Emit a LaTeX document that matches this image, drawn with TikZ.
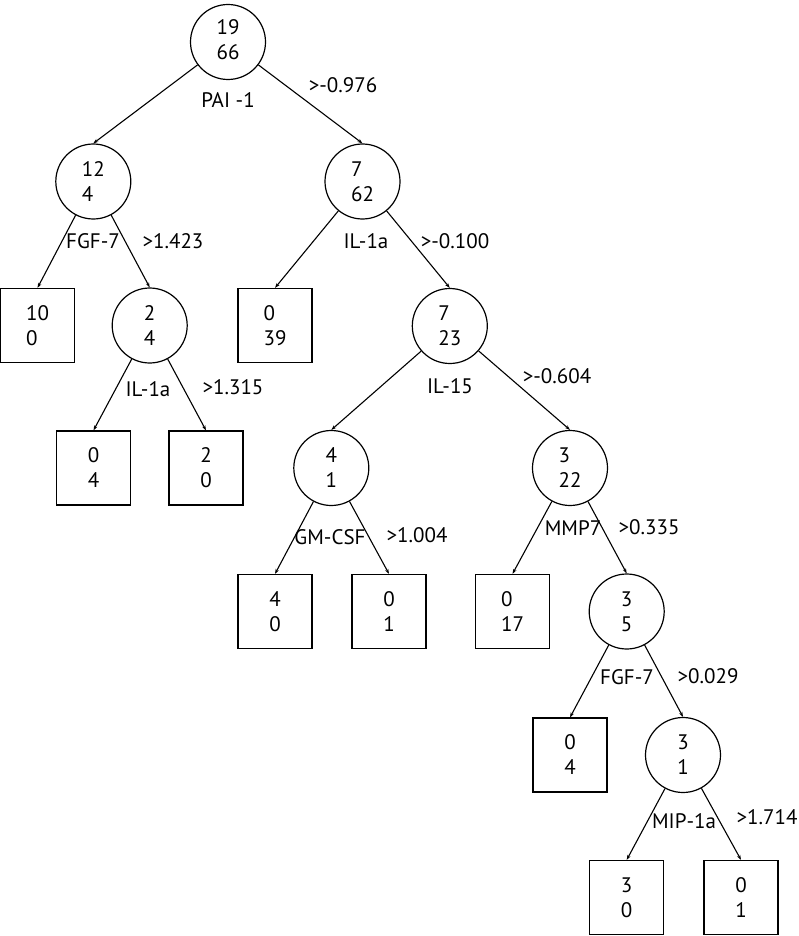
\documentclass[tikz,border=0pt]{standalone}
\usepackage{fontspec}
\setmainfont{PT Sans}
\usetikzlibrary{arrows.meta}
\begin{document}
\begin{tikzpicture}[x=1pt,y=-1pt,
  every node/.style={font=\fontsize{21}{25}\selectfont, inner sep=0pt},
  split/.style={circle, draw, line width=1.2pt, minimum size=75pt, align=left},
  leaf/.style={rectangle, draw, line width=1.2pt, minimum size=74pt, align=left},
  lbl/.style={anchor=center},
  edge/.style={line width=1.1pt, -{Stealth[length=5pt,width=3.5pt]}}]
\useasboundingbox (0,0) rectangle (798,936);
% internal nodes
\node[split] (r)  at (228,42)      {\raisebox{7pt}{\begin{tabular}{@{}l@{}}19\\66\end{tabular}}};
\node[split] (n1) at (93.3,181.5)  {12\\4};
\node[split] (n2) at (362.5,181.5) {7\\62};
\node[split] (n3) at (149.7,325.5) {2\\4};
\node[split] (n4) at (449.8,326)   {7\\23};
\node[split] (n5) at (331.3,468)   {4\\1};
\node[split] (n6) at (570,468)     {3\\22};
\node[split] (n7) at (626.7,611.5) {3\\5};
\node[split] (n8) at (683,755)     {3\\1};
% leaves
\node[leaf] (b1)  at (37.5,325.5)  {10\\0};
\node[leaf] (b2)  at (275,325.5)   {0\\39};
\node[leaf] (b3)  at (93.5,468)    {0\\4};
\node[leaf] (b4)  at (206,468)     {2\\0};
\node[leaf] (b5)  at (275,611.5)   {4\\0};
\node[leaf] (b6)  at (389,611.5)   {0\\1};
\node[leaf] (b7)  at (512.5,611.5) {0\\17};
\node[leaf] (b8)  at (570,755)     {0\\4};
\node[leaf] (b9)  at (626.7,897.5) {3\\0};
\node[leaf] (b10) at (741,897.5)   {0\\1};
% edges
\draw[edge] (r) -- (n1.north);
\draw[edge] (r) -- (n2.north);
\draw[edge] (n1) -- (b1.north);
\draw[edge] (n1) -- (n3.north);
\draw[edge] (n2) -- (b2.north);
\draw[edge] (n2) -- (n4.north);
\draw[edge] (n3) -- (b3.north);
\draw[edge] (n3) -- (b4.north);
\draw[edge] (n4) -- (n5.north);
\draw[edge] (n4) -- (n6.north);
\draw[edge] (n5) -- (b5.north);
\draw[edge] (n5) -- (b6.north);
\draw[edge] (n6) -- (b7.north);
\draw[edge] (n6) -- (n7.north);
\draw[edge] (n7) -- (b8.north);
\draw[edge] (n7) -- (n8.north);
\draw[edge] (n8) -- (b9.north);
\draw[edge] (n8) -- (b10.north);
% labels
\node[lbl] (l1)  at (228,100) {PAI -1};
\node[lbl] (t1)  at (343,85)  {>-0.976};
\node[lbl] (l2)  at (93,241)  {FGF-7};
\node[lbl] (t2)  at (173,241) {>1.423};
\node[lbl] (l3)  at (366,241) {IL-1a};
\node[lbl] (t3)  at (455,241) {>-0.100};
\node[lbl] (l4)  at (148,389) {IL-1a};
\node[lbl] (t4)  at (233,387) {>1.315};
\node[lbl] (l5)  at (450,386) {IL-15};
\node[lbl] (t5)  at (557,376) {>-0.604};
\node[lbl] (l6)  at (330,537) {GM-CSF};
\node[lbl] (t6)  at (417,535) {>1.004};
\node[lbl] (l7)  at (573,528) {MMP7};
\node[lbl] (t7)  at (649,527) {>0.335};
\node[lbl] (l8)  at (627,677) {FGF-7};
\node[lbl] (t8)  at (708,676) {>0.029};
\node[lbl] (l9)  at (684,821) {MIP-1a};
\node[lbl] (t9)  at (767,817) {>1.714};
\end{tikzpicture}
\end{document}
